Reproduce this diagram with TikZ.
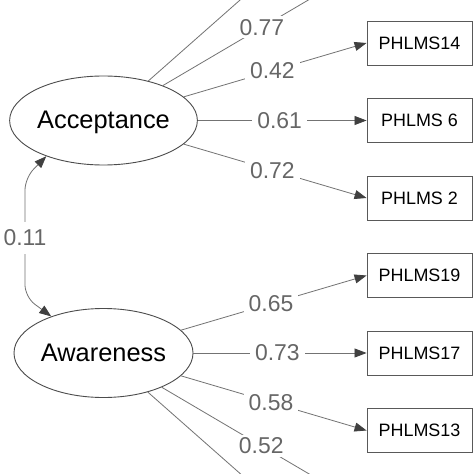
\documentclass[tikz,border=0pt]{standalone}
\usepackage{fontspec}
\setmainfont{Liberation Sans}
\usetikzlibrary{shapes.geometric,arrows.meta}
\begin{document}
\begin{tikzpicture}[x=1bp,y=-1bp,
  latent/.style={ellipse,draw=black!70,line width=0.9bp,minimum width=179bp,minimum height=89bp,inner sep=0pt,font=\fontsize{25.5}{30}\selectfont,text depth=1bp},
  manifest/.style={rectangle,draw=black!65,line width=0.9bp,minimum width=105bp,minimum height=44bp,inner sep=0pt,font=\fontsize{18}{22}\selectfont},
  tipx/.tip={Triangle[length=12bp,width=9bp,color=black!75]},
  load/.style={draw=black!55,line width=0.8bp,-tipx},
  loadoff/.style={draw=black!55,line width=0.8bp},
  lab/.style={fill=white,text=black!60,inner xsep=5bp,inner ysep=3bp,font=\fontsize{23}{27}\selectfont},
  coef/.style={lab,pos=0.485},
  cov/.style={draw=black!55,line width=0.8bp,tipx-tipx,rounded corners=12bp}]
\useasboundingbox (0,0) rectangle (474,474);
\clip (0,0) rectangle (474,474);
\fill[white] (0,0) rectangle (474,474);
\node[latent] (acc) at (103.5,120.5) {Acceptance};
\node[latent] (aw) at (103.5,353) {Awareness};
\node[manifest] (p14) at (419.5,43) {PHLMS14};
\node[manifest] (p6) at (419.5,120.5) {PHLMS 6};
\node[manifest] (p2) at (419.5,198) {PHLMS 2};
\node[manifest] (p19) at (419.5,275.5) {PHLMS19};
\node[manifest] (p17) at (419.5,353) {PHLMS17};
\node[manifest] (p13) at (419.5,430.5) {PHLMS13};
\coordinate (ua) at (367,-34.5);
\coordinate (ub) at (367,-112);
\coordinate (da) at (367,508);
\coordinate (db) at (367,585.5);
\draw[loadoff] (acc) -- (ub);
\draw[loadoff] (acc) -- (ua) node[coef]{0.77};
\draw[load] (acc) -- (p14.west) node[coef]{0.42};
\draw[load] (acc) -- (p6.west) node[coef]{0.61};
\draw[load] (acc) -- (p2.west) node[coef]{0.72};
\draw[load] (aw) -- (p19.west) node[coef]{0.65};
\draw[load] (aw) -- (p17.west) node[coef]{0.73};
\draw[load] (aw) -- (p13.west) node[coef]{0.58};
\draw[loadoff] (aw) -- (da) node[coef]{0.52};
\draw[loadoff] (aw) -- (db);
\draw[cov] (acc.212) -- (25,178) -- (25,297) -- (aw.145);
\node[lab,inner ysep=8bp] (c11) at (25,238) {0.11};
\end{tikzpicture}
\end{document}
